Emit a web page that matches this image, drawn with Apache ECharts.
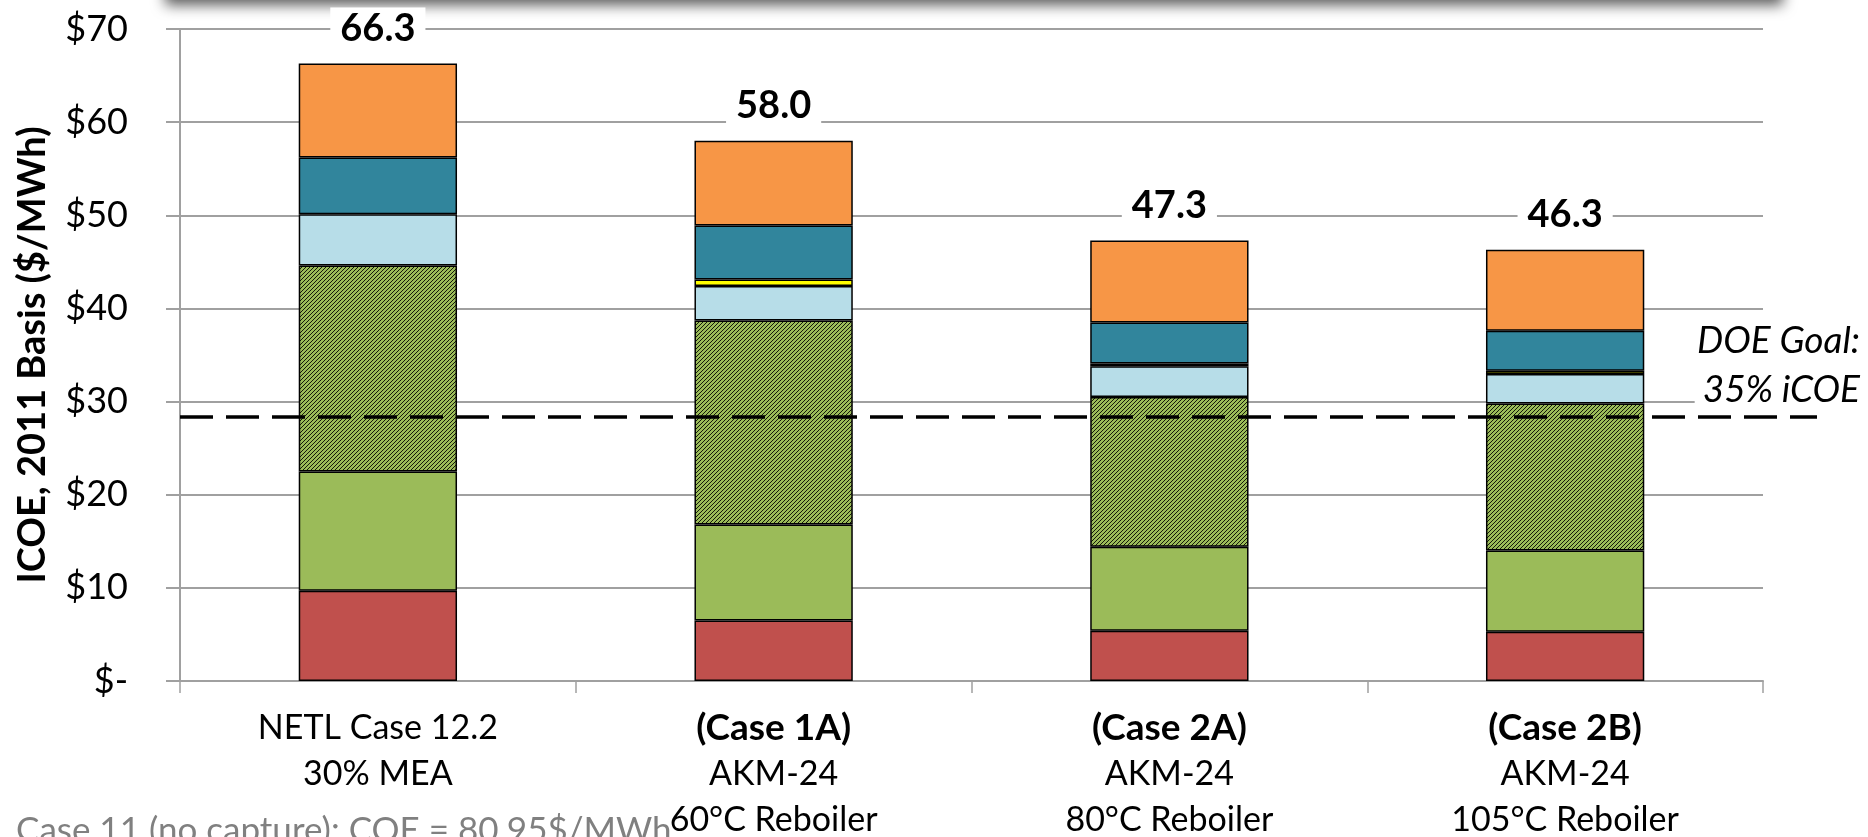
<!DOCTYPE html>
<html>
<head>
<meta charset="utf-8">
<script src="https://cdn.jsdelivr.net/npm/echarts@6/dist/echarts.min.js"></script>
<style>
  html, body { margin: 0; padding: 0; background: #fff; }
  #chart { width: 1868px; height: 837px; }
</style>
</head>
<body>
<div id="chart"></div>
<script>
// Category label lines (first line bold for the AKM-24 cases)
const caseLines = [
  ['NETL Case 12.2', '30% MEA'],
  ['(Case 1A)', 'AKM-24', '60°C Reboiler'],
  ['(Case 2A)', 'AKM-24', '80°C Reboiler'],
  ['(Case 2B)', 'AKM-24', '105°C Reboiler']
];
const boldFirstLine = [false, true, true, true];
const categories = caseLines.map(l => l[0]);

// Stacked ICOE components, $/MWh (bottom to top)
const redValues       = [9.7, 6.5, 5.4, 5.3];
const greenValues     = [12.8, 10.3, 9.0, 8.7];
const hatchedValues   = [22.1, 21.9, 16.1, 15.8];
const lightBlueValues = [5.5, 3.7, 3.3, 3.15];
const yellowValues    = [0, 0.7, 0.3, 0.35];
const tealValues      = [6.1, 5.8, 4.4, 4.3];
const orangeValues    = [10.1, 9.1, 8.8, 8.7];

// Axis ticks
const yMin = 0, yMax = 70, yStep = 10;

// Reference lines / notes
const noCaptureCOE = 80.95;
const goalFraction = 0.35;
const goalValue = noCaptureCOE * goalFraction;
const goalLines = ['DOE Goal:', '35% iCOE'];
const footNote = 'Case 11 (no capture): COE = 80.95$/MWh';

const stackArrays = [redValues, greenValues, hatchedValues, lightBlueValues,
                     yellowValues, tealValues, orangeValues];
const totals = categories.map((_, i) => stackArrays.reduce((s, a) => s + a[i], 0));

// Diagonal hatch tile: green with thin black "/" stripes
function makeHatch() {
  const size = 4;
  const c = document.createElement('canvas');
  c.width = size; c.height = size;
  const ctx = c.getContext('2d');
  const img = ctx.createImageData(size, size);
  for (let y = 0; y < size; y++) {
    for (let x = 0; x < size; x++) {
      const k = (y * size + x) * 4;
      const on = (x + y) % size === 0;
      img.data[k] = on ? 20 : 155;
      img.data[k + 1] = on ? 25 : 187;
      img.data[k + 2] = on ? 10 : 89;
      img.data[k + 3] = 255;
    }
  }
  ctx.putImageData(img, 0, 0);
  return c;
}

const FONT = 'Lato, "Open Sans", sans-serif';
const chart = echarts.init(document.getElementById('chart'), null, { renderer: 'canvas' });

function barSeries(name, values, color) {
  return {
    name,
    type: 'bar',
    stack: 'icoe',
    barWidth: '40%',
    data: values.map(v => (v === 0 ? '-' : v)),
    itemStyle: { color, borderColor: '#000', borderWidth: 1.5 },
    emphasis: { disabled: true },
    animation: false
  };
}

const series = [
  barSeries('red', redValues, '#C0504D'),
  barSeries('green', greenValues, '#9BBB59'),
  barSeries('hatched', hatchedValues, { image: makeHatch(), repeat: 'repeat' }),
  barSeries('lightBlue', lightBlueValues, '#B7DDE8'),
  barSeries('yellow', yellowValues, '#FFFF00'),
  barSeries('teal', tealValues, '#31859C'),
  barSeries('orange', orangeValues, '#F79646')
];
series[6].label = {
  show: true,
  position: 'top',
  distance: 14,
  formatter: p => totals[p.dataIndex].toFixed(1),
  fontFamily: FONT,
  fontWeight: 'bold',
  fontSize: 38,
  color: '#000',
  backgroundColor: '#fff',
  padding: [2, 10]
};

chart.setOption({
  animation: false,
  backgroundColor: '#fff',
  grid: { left: 180, right: 105, top: 29, bottom: 154, containLabel: false },
  xAxis: {
    type: 'category',
    data: categories,
    axisLine: { lineStyle: { color: '#a0a0a0', width: 2 } },
    axisTick: { show: true, length: 12, lineStyle: { color: '#a0a0a0', width: 1.5 } },
    axisLabel: {
      margin: 24,
      interval: 0,
      formatter: (value, idx) => {
        const lines = caseLines[idx];
        return lines.map((t, j) => (j === 0 && boldFirstLine[idx] ? '{b|' + t + '}' : '{r|' + t + '}')).join('\n');
      },
      rich: {
        b: { fontFamily: FONT, fontWeight: 'bold', fontSize: 37, lineHeight: 46, color: '#000' },
        r: { fontFamily: FONT, fontSize: 34, lineHeight: 46, color: '#000' }
      }
    }
  },
  yAxis: {
    type: 'value',
    min: yMin,
    max: yMax,
    interval: yStep,
    name: 'ICOE, 2011 Basis ($/MWh)',
    nameLocation: 'middle',
    nameGap: 128,
    nameTextStyle: { fontFamily: FONT, fontWeight: 'bold', fontSize: 38, color: '#000' },
    axisLine: { show: true, lineStyle: { color: '#a0a0a0', width: 2 } },
    axisTick: { show: true, length: 14, lineStyle: { color: '#a0a0a0', width: 2 } },
    splitLine: { lineStyle: { color: '#a0a0a0', width: 2 } },
    axisLabel: {
      margin: 52,
      fontFamily: FONT,
      fontSize: 36,
      color: '#000',
      formatter: v => (v === 0 ? '$-' : '$' + v)
    }
  },
  series
});

// Overlays: goal line, its note, footnote and top shadow strip
const goalY = chart.convertToPixel({ yAxisIndex: 0 }, goalValue);
chart.setOption({
  graphic: [
    {
      type: 'rect',
      z: 1,
      shape: { x: 165, y: -30, width: 1618, height: 30 },
      style: { fill: '#fff', shadowBlur: 14, shadowOffsetY: 5, shadowColor: 'rgba(0,0,0,0.65)' }
    },
    {
      type: 'line',
      z: 100,
      shape: { x1: 180, y1: goalY, x2: 1817, y2: goalY },
      style: { stroke: '#000', lineWidth: 3.5, lineDash: [33, 13] }
    },
    {
      type: 'text',
      z: 100,
      style: {
        text: goalLines[0], x: 1860, y: goalY - 76,
        align: 'right', verticalAlign: 'middle',
        font: 'italic 37px ' + FONT, fill: '#000'
      }
    },
    {
      type: 'text',
      z: 100,
      style: {
        text: goalLines[1], x: 1860, y: goalY - 27,
        align: 'right', verticalAlign: 'middle',
        font: 'italic 37px ' + FONT, fill: '#000',
        backgroundColor: '#fff', padding: [0, 0, 0, 8]
      }
    },
    {
      type: 'text',
      z: 100,
      style: {
        text: footNote, x: 16, y: 813,
        align: 'left', verticalAlign: 'top',
        font: '35px ' + FONT, fill: '#808080'
      }
    }
  ]
});
</script>
</body>
</html>
